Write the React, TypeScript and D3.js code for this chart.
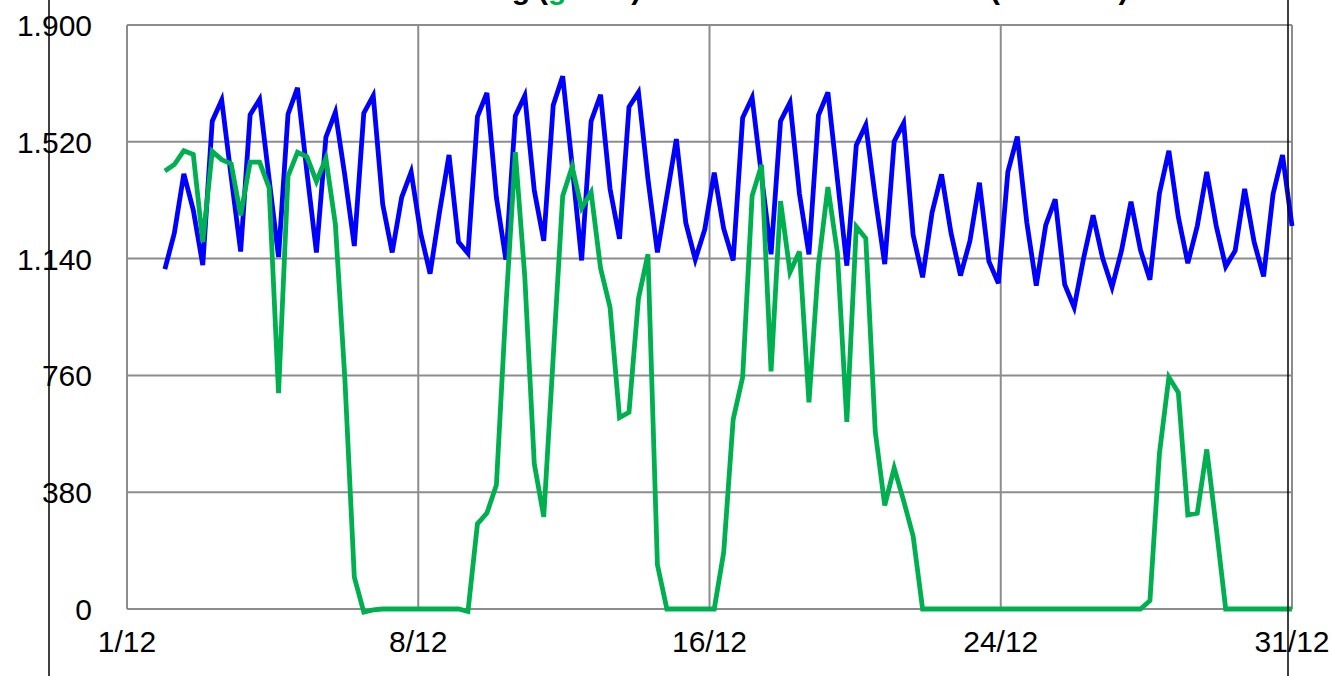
import React from "react";
import * as d3 from "d3";

const W = 1332;
const H = 676;

const xTickLabels = ["1/12", "8/12", "16/12", "24/12", "31/12"];
const yTicks = [0, 380, 760, 1140, 1520, 1900];
const yTickLabels = ["0", "380", "760", "1.140", "1.520", "1.900"];

// 120 samples (every 6 hours)
const verbruik = [
  1106, 1223, 1416, 1298, 1119, 1587, 1656, 1406, 1163, 1608, 1658, 1400, 1145, 1610, 1696, 1420, 1160,
  1535, 1616, 1410, 1181, 1613, 1670, 1316, 1160, 1339, 1422, 1223, 1091, 1292, 1477, 1194, 1157, 1602, 1679, 1339, 1137,
  1604, 1670, 1362, 1198, 1639, 1733, 1443, 1134, 1587, 1673, 1367, 1204, 1633, 1681, 1400, 1160, 1344, 1529, 1256, 1137, 1235, 1420,
  1237, 1134, 1598, 1664, 1408, 1154, 1587, 1648, 1350, 1154, 1606, 1681, 1400, 1117, 1509, 1575, 1339, 1122, 1521, 1581,
  1217, 1079, 1290, 1414, 1223, 1085, 1198, 1387, 1131, 1060, 1422, 1537, 1258, 1052, 1249, 1333, 1056, 981, 1142, 1281, 1142,
  1047, 1166, 1325, 1168, 1071, 1352, 1491, 1275, 1125, 1246, 1422, 1246, 1114, 1166, 1367, 1194, 1082, 1350, 1477, 1246,
];

const opwekking = [
  1425, 1446, 1491, 1479, 1194, 1489, 1462, 1448, 1281, 1454, 1454, 1371, 702, 1408, 1486, 1471, 1391,
  1466, 1252, 750, 104, -10, -3, 0, 0, 0, 0, 0, 0, 0, 0, 0, -8, 277, 312, 403, 980,
  1486, 1080, 473, 300, 820, 1344, 1439, 1304, 1356, 1108, 981, 623, 640, 1010, 1154, 144, 0, 0, 0, 0, 0, 0,
  185, 617, 754, 1344, 1445, 773, 1327, 1096, 1163, 672, 1119, 1373, 1160, 609, 1244, 1206, 577, 337, 459, 352, 237,
  0, 0, 0, 0, 0, 0, 0, 0, 0, 0, 0, 0, 0, 0, 0, 0, 0, 0, 0, 0, 0, 0, 0, 0,
  27, 505, 754, 704, 306, 312, 519, 265,
  0, 0, 0, 0, 0, 0, 0, 0,
];

const X0 = 127;
const X1 = 1292;
const Y0 = 609;
const Y1 = 25;

export default function App() {
  const x = d3.scaleLinear().domain([-4, 119]).range([X0, X1]);
  const y = d3.scaleLinear().domain([0, 1900]).range([Y0, Y1]);
  const line = d3
    .line<number>()
    .x((_, i) => x(i))
    .y((d) => y(d));

  const [d0, d1] = x.domain();
  const xTickPos = xTickLabels.map((_, k) => x(d0 + ((d1 - d0) * k) / (xTickLabels.length - 1)));

  const font = "'Liberation Sans', Arial, sans-serif";
  const grid = "#8c8c8c";

  return (
    <svg
      width={W}
      height={H}
      style={{ position: "absolute", left: 0, top: 0, background: "#fff" }}
      fontFamily={font}
    >
      <rect x={0} y={0} width={W} height={H} fill="#fff" />
      {/* title, mostly above the visible area */}
      <g fontSize={30} fontWeight="bold" fill="#000">
        <text x={530} y={-1} textAnchor="end">Levering</text>
        <text x={538} y={-1}>
          (<tspan fill="#00b050">groen</tspan>)
        </text>
        <text x={810} y={-1} textAnchor="middle">en het totale verbruik</text>
        <text x={990} y={-1}>
          (<tspan fill="#0000ff">verbruik</tspan>)
        </text>
      </g>
      {/* horizontal grid */}
      {yTicks.map((t) => (
        <line key={"h" + t} x1={X0} x2={X1} y1={y(t)} y2={y(t)} stroke={grid} strokeWidth={2} />
      ))}
      {/* vertical grid */}
      {xTickPos.map((p, k) => (
        <line key={"v" + k} x1={p} x2={p} y1={Y1} y2={Y0} stroke={grid} strokeWidth={2} />
      ))}
      {/* y labels */}
      {yTicks.map((t, k) => (
        <text key={"yl" + t} x={92} y={y(t) + 11} fontSize={30} textAnchor="end" fill="#000">
          {yTickLabels[k]}
        </text>
      ))}
      {/* x labels */}
      {xTickLabels.map((l, k) => (
        <text key={"xl" + l} x={xTickPos[k]} y={652} fontSize={30} textAnchor="middle" fill="#000">
          {l}
        </text>
      ))}
      <path d={line(verbruik) || ""} fill="none" stroke="#0000ff" strokeWidth={4.8} />
      <path d={line(opwekking) || ""} fill="none" stroke="#00b050" strokeWidth={4.8} />
      {/* black vertical frame lines */}
      <line x1={49} x2={49} y1={0} y2={H} stroke="#000" strokeWidth={1.5} />
      <line x1={1288} x2={1288} y1={0} y2={H} stroke="#000" strokeWidth={1.5} />
    </svg>
  );
}
